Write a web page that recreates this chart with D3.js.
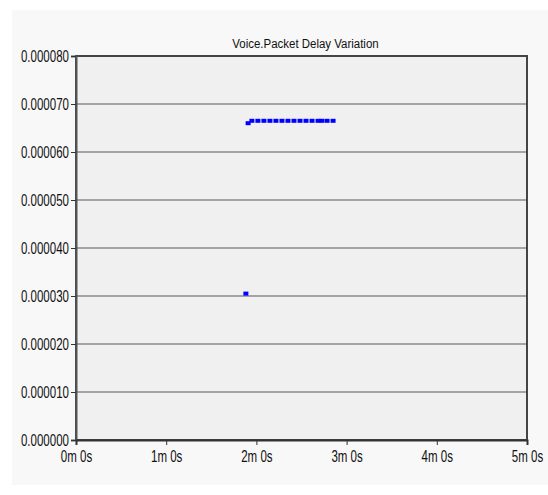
<!DOCTYPE html>
<html>
<head>
<meta charset="utf-8">
<script src="https://cdn.jsdelivr.net/npm/d3@7"></script>
<style>
  body { margin: 0; background: #ffffff; }
  svg text { font-family: "Liberation Sans", Arial, sans-serif; fill: #111; }
</style>
</head>
<body>
<div id="chart"></div>
<script>
// data: time in seconds, value of packet delay variation (s)
const title = "Voice.Packet Delay Variation";
const times = [113, 114.5, 117, 121, 125, 129, 133, 137, 141, 145, 149, 153, 157, 161, 163.5, 167, 171];
const values = [0.0000305, 0.0000660, 0.0000665, 0.0000665, 0.0000665, 0.0000665, 0.0000665, 0.0000665,
                0.0000665, 0.0000665, 0.0000665, 0.0000665, 0.0000665, 0.0000665, 0.0000665, 0.0000665, 0.0000665];
const xTicks = [0, 60, 120, 180, 240, 300];
const xTickLabels = ["0m 0s", "1m 0s", "2m 0s", "3m 0s", "4m 0s", "5m 0s"];
const yTicks = [0, 0.00001, 0.00002, 0.00003, 0.00004, 0.00005, 0.00006, 0.00007, 0.00008];

const W = 548, H = 495;
const margin = {top: 56, right: 21, bottom: 55, left: 76};
const width = W - margin.left - margin.right;
const height = H - margin.top - margin.bottom;
const squeeze = 0.72; // narrow look of the original labels

const root = d3.select("#chart")
    .append("svg")
    .attr("width", W)
    .attr("height", H);

// outer panel
root.append("rect")
    .attr("x", 12).attr("y", 10)
    .attr("width", W - 12).attr("height", 475)
    .attr("fill", "#f8f8f8");

const svg = root.append("g")
    .attr("transform", `translate(${margin.left},${margin.top})`);

const x = d3.scaleLinear().domain([0, 300]).range([0, width]);
const y = d3.scaleLinear().domain([0, 0.00008]).range([height, 0]);

// plot background
svg.append("rect")
    .attr("width", width).attr("height", height)
    .attr("fill", "#f0f0f0");

// horizontal grid lines
svg.selectAll("line.grid")
    .data(yTicks.slice(1, -1))
    .enter()
    .append("line")
    .attr("class", "grid")
    .attr("x1", 0).attr("x2", width)
    .attr("y1", d => Math.round(y(d))).attr("y2", d => Math.round(y(d)))
    .attr("stroke", "#a4a4a4")
    .attr("stroke-width", 2);

// frame
svg.append("rect")
    .attr("width", width).attr("height", height)
    .attr("fill", "none")
    .attr("stroke", "#444")
    .attr("stroke-width", 2);

// Y axis
const yAxis = svg.append("g")
    .call(d3.axisLeft(y).tickValues(yTicks).tickFormat(d => d.toFixed(6)).tickSize(5).tickPadding(2));
yAxis.select(".domain").attr("stroke", "#555").attr("stroke-width", 2);
yAxis.selectAll(".tick line").attr("stroke", "#333");
yAxis.selectAll("text")
    .style("font-size", "16px")
    .attr("fill", "#111")
    .attr("x", -7 / squeeze)
    .attr("transform", `scale(${squeeze},1)`);

// X axis
const xAxis = svg.append("g")
    .attr("transform", `translate(0,${height})`)
    .call(d3.axisBottom(x).tickValues(xTicks).tickFormat((d, i) => xTickLabels[i]).tickSize(5).tickPadding(6));
xAxis.select(".domain").attr("stroke", "#333").attr("stroke-width", 2);
xAxis.selectAll(".tick line").attr("stroke", "#333");
xAxis.selectAll("text")
    .style("font-size", "16px")
    .attr("fill", "#111")
    .attr("transform", `scale(${squeeze},1)`);

// title
svg.append("text")
    .attr("transform", `translate(${width / 2 + 4},-8) scale(0.85,1)`)
    .attr("text-anchor", "middle")
    .style("font-size", "13.5px")
    .text(title);

// data markers
svg.selectAll("rect.pt")
    .data(d3.zip(times, values))
    .enter()
    .append("rect")
    .attr("class", "pt")
    .attr("x", d => x(d[0]) - 2.5)
    .attr("y", d => y(d[1]) - 2)
    .attr("width", 5)
    .attr("height", 4)
    .attr("fill", "#0000ff");
</script>
</body>
</html>
